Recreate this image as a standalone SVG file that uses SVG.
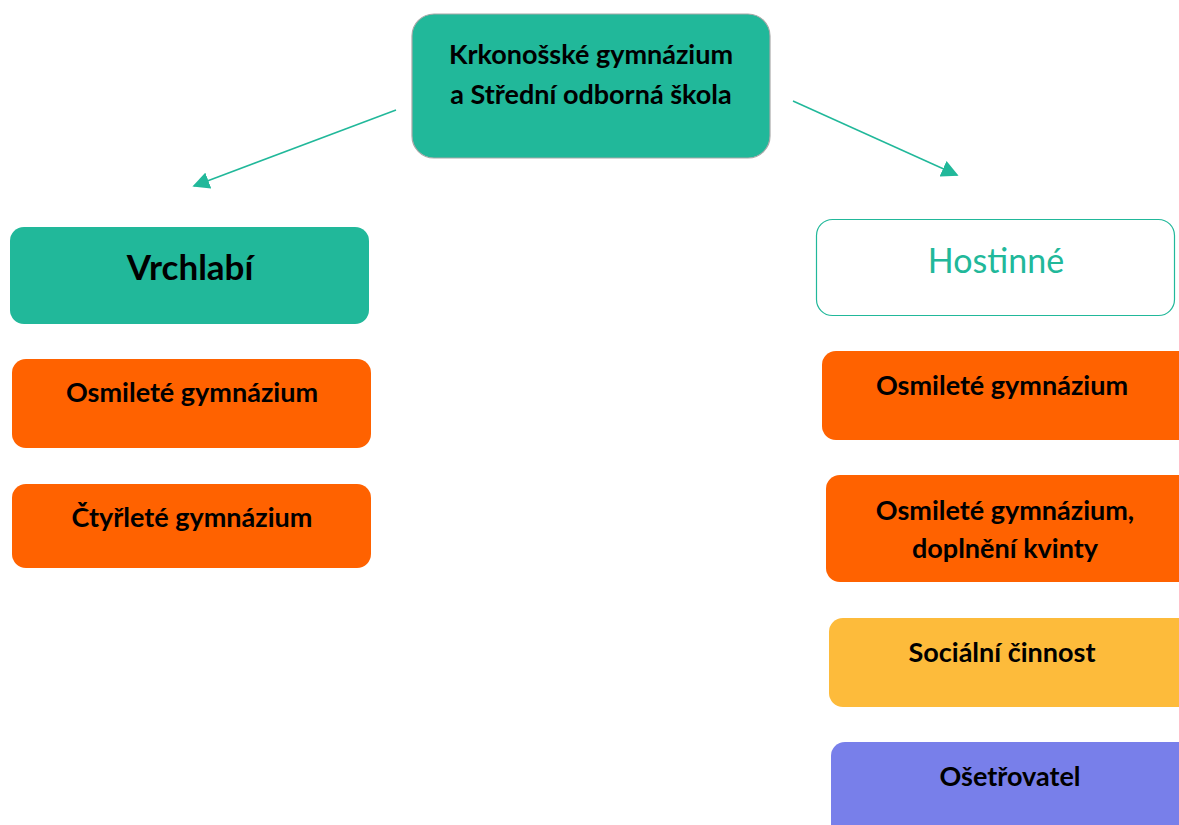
<svg xmlns="http://www.w3.org/2000/svg" width="1179" height="825" viewBox="0 0 1179 825">
<style>
.t{font-family:"Lato","Open Sans","Liberation Sans",sans-serif;font-weight:bold;fill:#000;text-anchor:middle;font-size:27px}
.orange{fill:#FF6200}
.teal{fill:#21B89A}
.con{stroke:#21B89A;stroke-width:1.5;fill:none}
</style>
<defs>
<marker id="arrL" viewBox="0 0 10 10" refX="9" refY="5" markerWidth="17" markerHeight="17" markerUnits="userSpaceOnUse" orient="auto">
<path d="M0,0 L10,5 L0,10 z" fill="#21B89A"/>
</marker>
</defs>
<rect width="1179" height="825" fill="#fff"/>
<g id="connectors">
<line class="con" x1="396" y1="110" x2="194" y2="186" marker-end="url(#arrL)"/>
<line class="con" x1="793" y1="101" x2="957" y2="175" marker-end="url(#arrL)"/>
</g>
<g id="root">
<rect x="412" y="14" width="358" height="144" rx="22" class="teal" stroke="#a8a8a8" stroke-width="1.2"/>
<text class="t" x="591" y="64">Krkonošské gymnázium</text>
<text class="t" x="591" y="104">a Střední odborná škola</text>
</g>
<g id="vrchlabi">
<rect x="10" y="227" width="359" height="97" rx="14" class="teal"/>
<text class="t" x="190" y="280" style="font-size:35px">Vrchlabí</text>
</g>
<g id="v-osmilete">
<rect x="12" y="359" width="359" height="89" rx="14" class="orange"/>
<text class="t" x="192" y="402">Osmileté gymnázium</text>
</g>
<g id="v-ctyrlete">
<rect x="12" y="484" width="359" height="84" rx="14" class="orange"/>
<text class="t" x="192" y="527">Čtyřleté gymnázium</text>
</g>
<g id="hostinne">
<rect x="816.5" y="219.5" width="358" height="96" rx="16" fill="#fff" stroke="#21B89A" stroke-width="1.2"/>
<text x="996" y="273" font-size="34" text-anchor="middle" fill="#21B89A" font-family="Lato,'Open Sans','Liberation Sans',sans-serif">Hostinné</text>
</g>
<g id="h-osmilete">
<rect x="822" y="351" width="370" height="89" rx="14" class="orange"/>
<text class="t" x="1002" y="395">Osmileté gymnázium</text>
</g>
<g id="h-osmilete-kvinta">
<rect x="826" y="475" width="370" height="107" rx="14" class="orange"/>
<text class="t" x="1005" y="520">Osmileté gymnázium,</text>
<text class="t" x="1005" y="558">doplnění kvinty</text>
</g>
<g id="h-socialni">
<rect x="829" y="618" width="370" height="89" rx="14" fill="#FDBB3B"/>
<text class="t" x="1002" y="662">Sociální činnost</text>
</g>
<g id="h-osetrovatel">
<rect x="831" y="742" width="370" height="100" rx="14" fill="#787FEA"/>
<text class="t" x="1010" y="786">Ošetřovatel</text>
</g>
</svg>
